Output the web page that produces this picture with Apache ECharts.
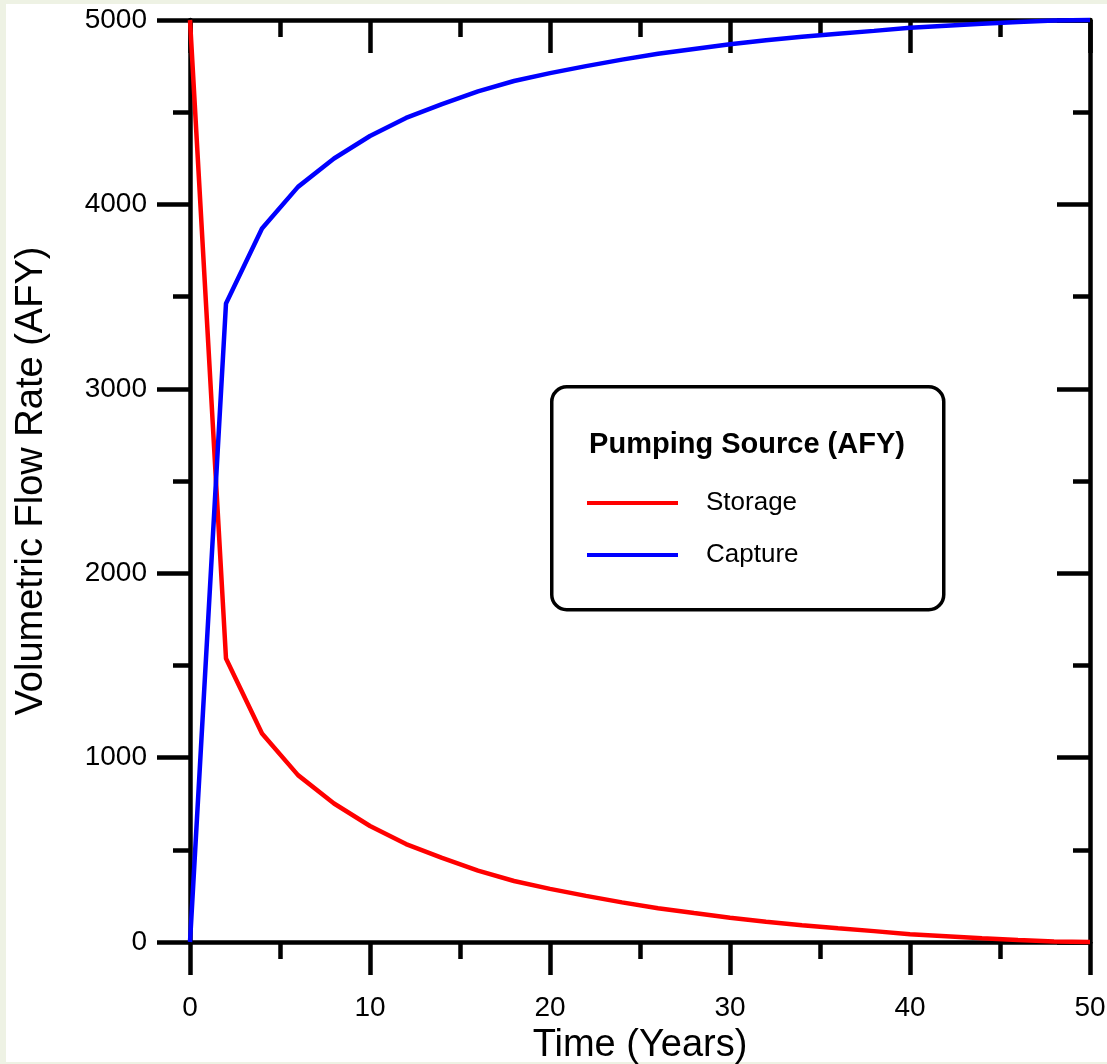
<!DOCTYPE html>
<html>
<head>
<meta charset="utf-8">
<script src="https://cdn.jsdelivr.net/npm/echarts@6/dist/echarts.min.js"></script>
<style>
    html, body { margin: 0; padding: 0; background: #eef2e4; }
    #paper { position: absolute; left: 6px; top: 4px; right: 0; bottom: 2px; background: #ffffff; }
    #chart { position: absolute; left: 0; top: 0; width: 1107px; height: 1064px; }
</style>
</head>
<body>
<div id="paper"></div>
<div id="chart"></div>
<script>
// time in years, one point every 2 years
const years = [0, 2, 4, 6, 8, 10, 12, 14, 16, 18, 20, 22, 24, 26, 28, 30, 32, 34, 36, 38, 40, 42, 44, 46, 48, 50];
// pumping supplied from storage (AFY)
const storage = [5000, 1537, 1131, 905, 751, 629, 531, 456, 387, 331, 288, 250, 215, 183, 157, 132, 110, 91, 74, 59, 42, 31, 20, 11, 3, 0];
// pumping supplied by capture (AFY)
const capture = [0, 3463, 3869, 4095, 4249, 4371, 4469, 4544, 4613, 4669, 4712, 4750, 4785, 4817, 4843, 4868, 4890, 4909, 4926, 4941, 4958, 4969, 4980, 4989, 4997, 5000];
const seriesNames = ['Storage', 'Capture'];
const legendTitle = 'Pumping Source (AFY)';

const font = "'Liberation Sans', Arial, sans-serif";
const black = '#000000';

const chart = echarts.init(document.getElementById('chart'));

// shared look of the four frame axes
function frameAxis(extra) {
    return Object.assign({
        type: 'value',
        axisLine: { show: true, onZero: false, lineStyle: { color: black, width: 4.5 } },
        splitLine: { show: false },
        axisTick: { show: true, length: 33, lineStyle: { color: black, width: 4.5 } },
        minorTick: { show: true, splitNumber: 2, length: 17, lineStyle: { color: black, width: 4.5 } },
        axisLabel: { show: false }
    }, extra);
}

chart.setOption({
    backgroundColor: 'transparent',
    animation: false,
    textStyle: { fontFamily: font },
    grid: { left: 190, top: 20, width: 900, height: 922, outerBoundsMode: 'none', containLabel: false },
    legend: {
        data: seriesNames,
        orient: 'vertical',
        left: 587,
        top: 490,
        padding: 0,
        z: 10,
        icon: 'rect',
        itemWidth: 91,
        itemHeight: 4,
        itemGap: 26,
        textStyle: {
            fontFamily: font,
            fontSize: 26,
            lineHeight: 26,
            color: black,
            padding: [0, 0, 0, 23]
        }
    },
    xAxis: [
        frameAxis({
            position: 'bottom',
            min: 0, max: 50, interval: 10,
            name: 'Time (Years)',
            nameLocation: 'middle',
            nameGap: 84,
            nameTextStyle: { fontFamily: font, fontSize: 38, color: black },
            axisLabel: { show: true, fontFamily: font, fontSize: 28, color: black, margin: 52 }
        }),
        frameAxis({
            position: 'top',
            min: 0, max: 50, interval: 10,
            axisTick: { show: true, inside: true, length: 33, lineStyle: { color: black, width: 4.5 } }
        })
    ],
    yAxis: [
        frameAxis({
            position: 'left',
            min: 0, max: 5000, interval: 1000,
            name: 'Volumetric Flow Rate (AFY)',
            nameLocation: 'middle',
            nameGap: 139,
            nameTextStyle: { fontFamily: font, fontSize: 38, color: black },
            axisLabel: {
                show: true, fontFamily: font, fontSize: 28, color: black, margin: 43,
                formatter: (v) => String(v)
            }
        }),
        frameAxis({
            position: 'right',
            min: 0, max: 5000, interval: 1000,
            axisTick: { show: true, inside: true, length: 33, lineStyle: { color: black, width: 4.5 } }
        })
    ],
    graphic: [
        {
            type: 'rect',
            left: 550,
            top: 385,
            shape: { width: 392, height: 223, r: 15 },
            style: { fill: '#ffffff', stroke: black, lineWidth: 3.5 },
            z: 1
        },
        {
            type: 'text',
            x: 747,
            y: 445,
            style: {
                text: legendTitle,
                font: 'bold 29px ' + font,
                fill: black,
                align: 'center',
                verticalAlign: 'middle'
            },
            z: 2
        }
    ],
    series: [
        {
            name: seriesNames[0],
            type: 'line',
            data: years.map((t, i) => [t, storage[i]]),
            symbol: 'none',
            clip: false,
            color: '#ff0000',
            lineStyle: { color: '#ff0000', width: 4.5 }
        },
        {
            name: seriesNames[1],
            type: 'line',
            xAxisIndex: 1,
            yAxisIndex: 1,
            data: years.map((t, i) => [t, capture[i]]),
            symbol: 'none',
            clip: false,
            color: '#0000ff',
            lineStyle: { color: '#0000ff', width: 4.5 }
        }
    ]
});
</script>
</body>
</html>
